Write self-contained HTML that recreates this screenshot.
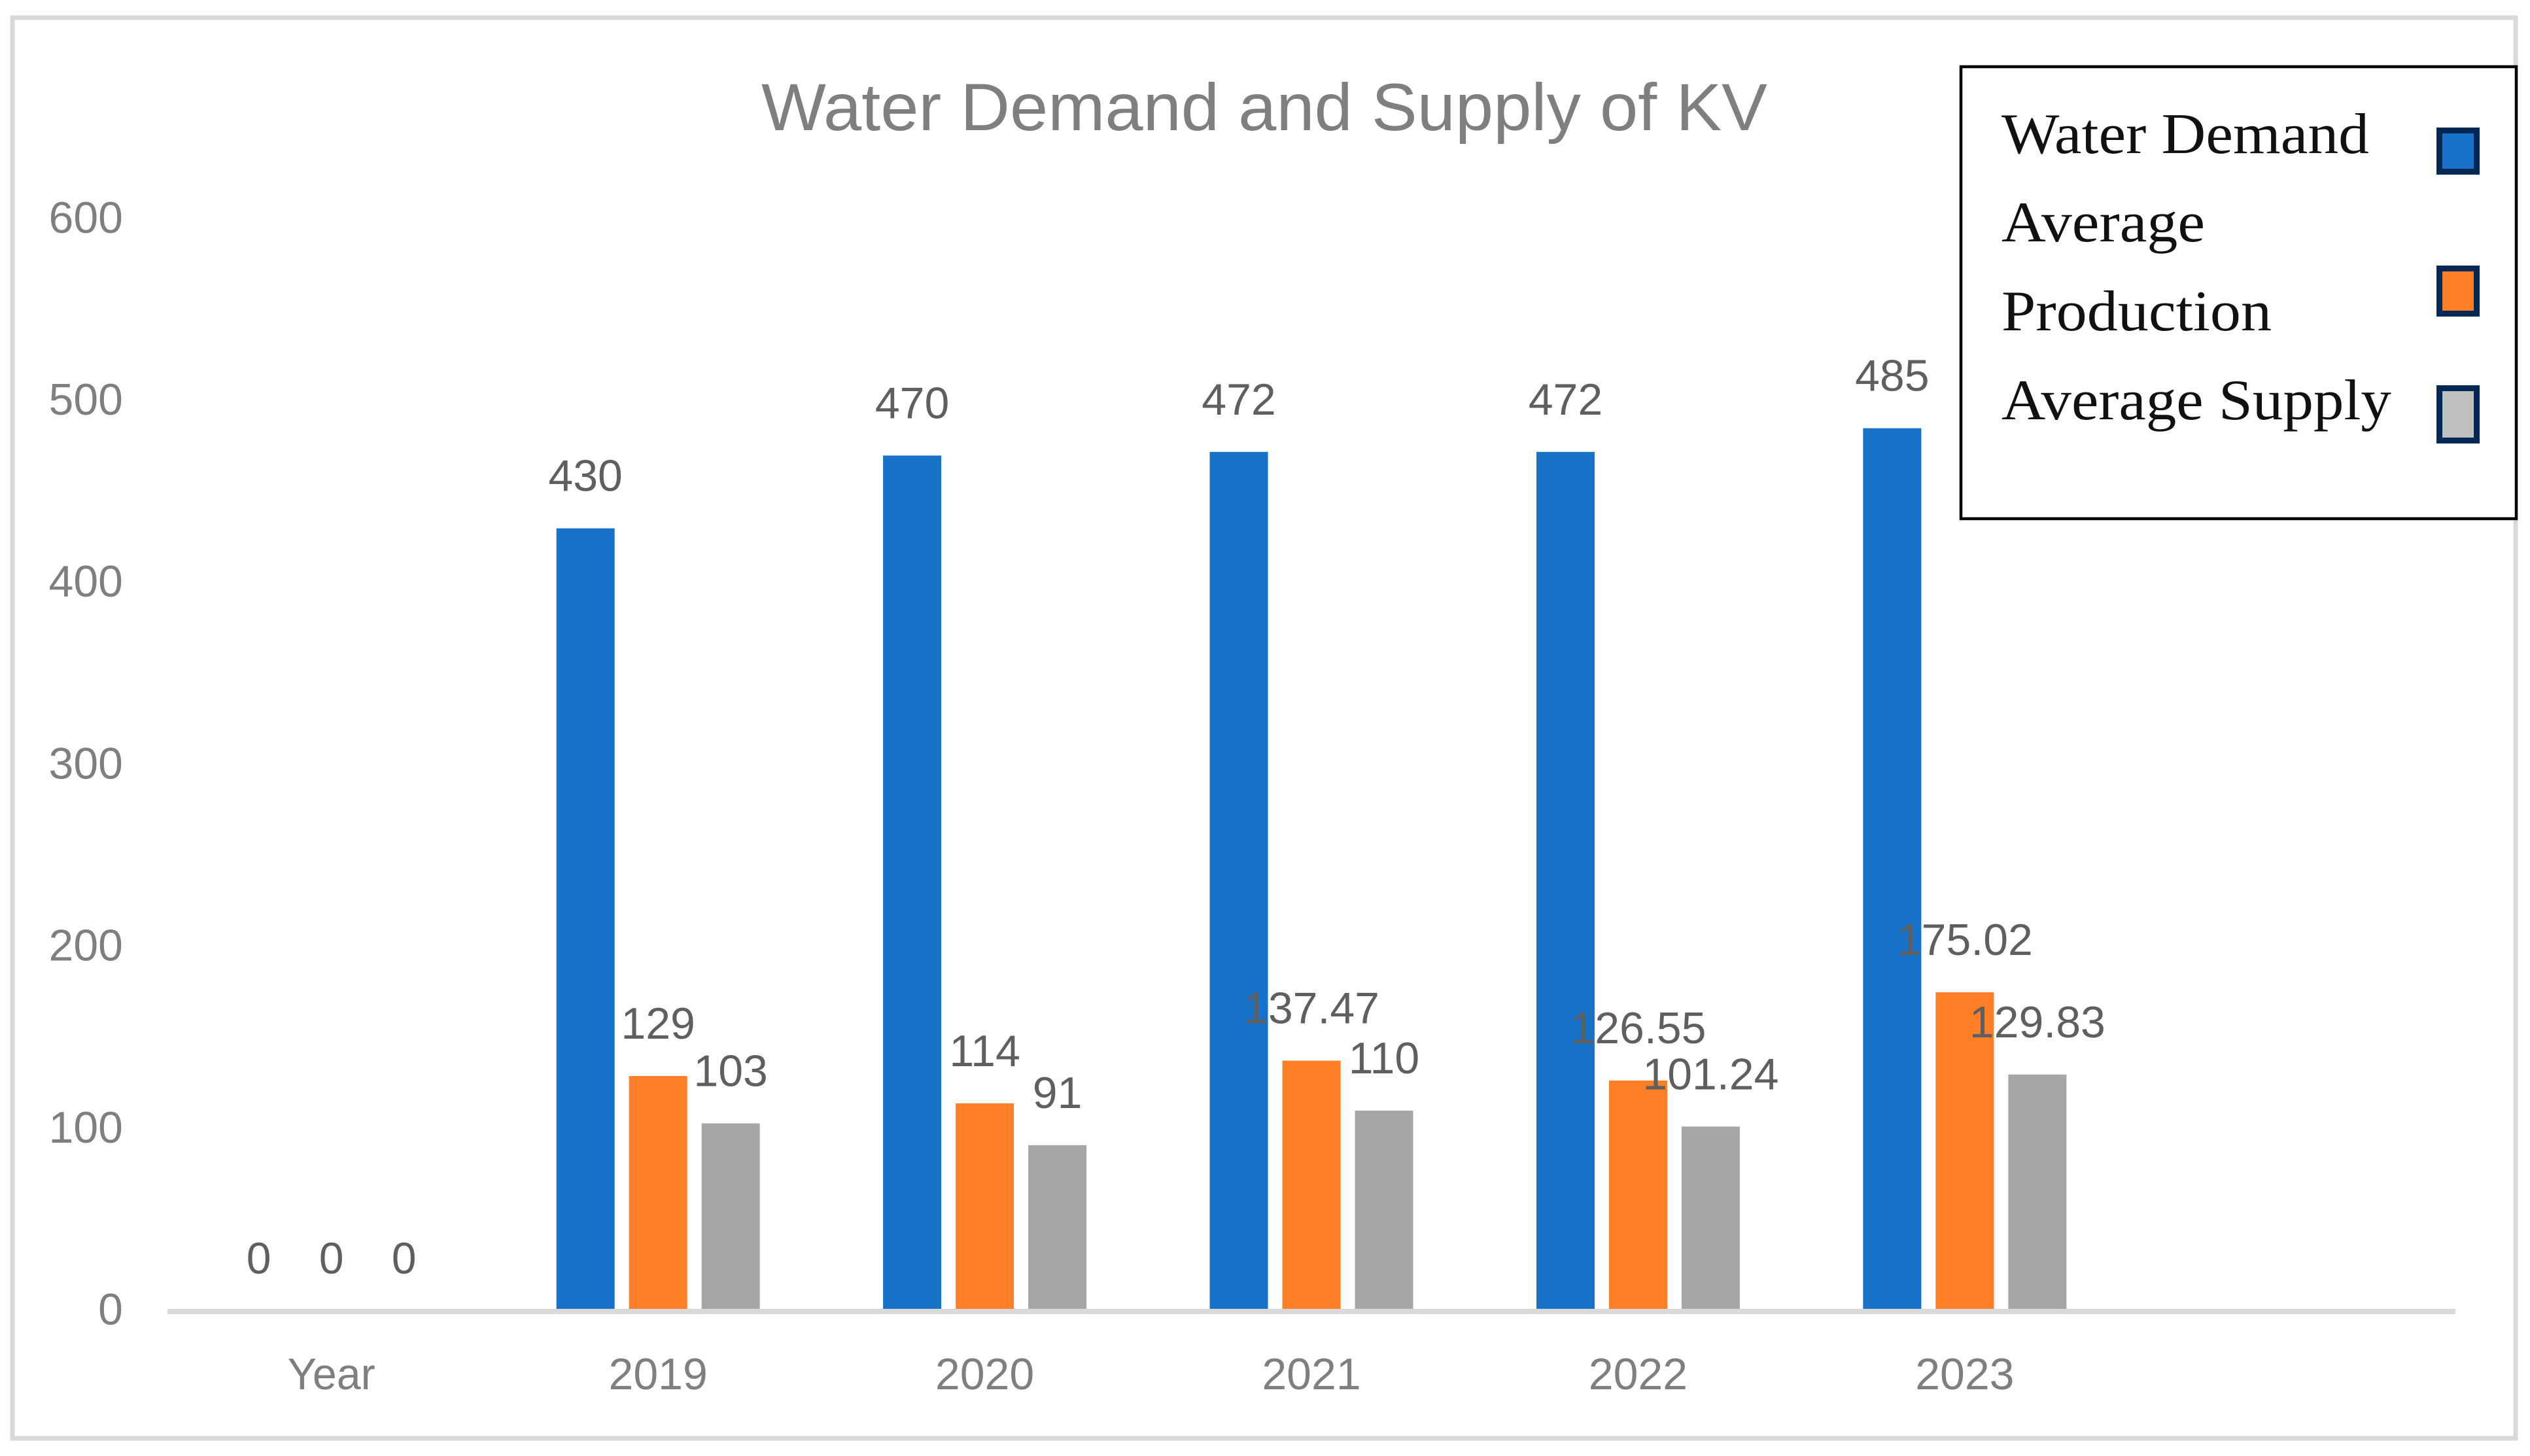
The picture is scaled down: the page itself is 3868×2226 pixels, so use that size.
<!DOCTYPE html>
<html lang="en">
<head>
<meta charset="utf-8">
<title>Water Demand and Supply of KV</title>
<style>
  html, body { margin: 0; padding: 0; background: #ffffff; }
  svg { display: block; }
  text { font-family: "Liberation Sans", sans-serif; }
  .legend-text { font-family: "Liberation Serif", serif; font-size: 88px; fill: #111111; }
</style>
</head>
<body>
<svg id="chart" xmlns="http://www.w3.org/2000/svg" width="3868" height="2226" viewBox="0 0 3868 2226">
  <rect x="0" y="0" width="3868" height="2226" fill="#ffffff"/>
  <rect x="19" y="27" width="3827" height="2172" fill="#ffffff" stroke="#d9d9d9" stroke-width="7"/>
  <text x="1164" y="199" font-size="102" fill="#7f7f7f" textLength="1538" lengthAdjust="spacingAndGlyphs">Water Demand and Supply of KV</text>
  <g id="y-axis"></g>
  <g id="bars"></g>
  <line x1="256" y1="2005" x2="3754" y2="2005" stroke="#d9d9d9" stroke-width="8"/>
  <g id="x-axis"></g>
  <g id="labels"></g>
  <g>
    <rect x="2998" y="102" width="849" height="691" fill="#ffffff" stroke="#000000" stroke-width="4.5"/>
    <text class="legend-text" x="3060" y="234" textLength="562" lengthAdjust="spacingAndGlyphs">Water Demand</text>
    <text class="legend-text" x="3060" y="369" textLength="311" lengthAdjust="spacingAndGlyphs">Average</text>
    <text class="legend-text" x="3060" y="505" textLength="413" lengthAdjust="spacingAndGlyphs">Production</text>
    <text class="legend-text" x="3060" y="641" textLength="596" lengthAdjust="spacingAndGlyphs">Average Supply</text>
    <rect x="3729.5" y="199.5" width="57" height="63" fill="#1772c8" stroke="#002855" stroke-width="9"/>
    <rect x="3729.5" y="410.5" width="57" height="69" fill="#ff7f27" stroke="#002855" stroke-width="9"/>
    <rect x="3729.5" y="593.5" width="57" height="80" fill="#bfbfbf" stroke="#002855" stroke-width="9"/>
  </g>
</svg>
<script>
const categories = ["Year", "2019", "2020", "2021", "2022", "2023", ""];
const waterDemand = [0, 430, 470, 472, 472, 485, null];
const averageProduction = [0, 129, 114, 137.47, 126.55, 175.02, null];
const averageSupply = [0, 103, 91, 110, 101.24, 129.83, null];
const yTicks = [0, 100, 200, 300, 400, 500, 600];

const NS = "http://www.w3.org/2000/svg";
const plotLeft = 257, plotRight = 3753, plotBase = 2004, pxPerUnit = 2.782;
const barWidth = 89, barPitch = 111;

function xCenter(i) {
  return plotLeft + (plotRight - plotLeft) * (i + 0.5) / categories.length;
}
function yPos(v) {
  return plotBase - v * pxPerUnit;
}
function makeText(parent, x, y, str, anchor, fill) {
  const t = document.createElementNS(NS, "text");
  t.setAttribute("x", x);
  t.setAttribute("y", y);
  t.setAttribute("font-size", "68");
  t.setAttribute("text-anchor", anchor);
  t.setAttribute("fill", fill);
  t.textContent = str;
  parent.appendChild(t);
  return t;
}

const yAxisGroup = document.getElementById("y-axis");
yTicks.forEach(function (tick) {
  const el = makeText(yAxisGroup, 188, yPos(tick) + 21, String(tick), "end", "#7f7f7f");
  
  
});

const xAxisGroup = document.getElementById("x-axis");
categories.forEach(function (cat, i) {
  if (!cat) return;
  const el = makeText(xAxisGroup, xCenter(i), 2124, cat, "middle", "#7f7f7f");
  
  
  if (cat === "Year") {
    el.setAttribute("textLength", "134");
    el.setAttribute("lengthAdjust", "spacingAndGlyphs");
  }
});

const barsGroup = document.getElementById("bars");
const labelsGroup = document.getElementById("labels");

function drawSeries(values, color, seriesName, seriesIndex) {
  values.forEach(function (v, i) {
    if (v === null) return;
    const cx = xCenter(i) + (seriesIndex - 1) * barPitch;
    if (v > 0) {
      const r = document.createElementNS(NS, "rect");
      r.setAttribute("x", cx - barWidth / 2);
      r.setAttribute("y", yPos(v));
      r.setAttribute("width", barWidth);
      r.setAttribute("height", plotBase - yPos(v));
      r.setAttribute("fill", color);
      
      
      barsGroup.appendChild(r);
    }
    const lab = makeText(labelsGroup, cx, yPos(v) - 57, String(v), "middle", "#5f5f5f");
    
    
  });
}

drawSeries(waterDemand, "#1772c8", "water-demand", 0);
drawSeries(averageProduction, "#ff7f27", "average-production", 1);
drawSeries(averageSupply, "#a6a6a6", "average-supply", 2);
</script>
</body>
</html>
